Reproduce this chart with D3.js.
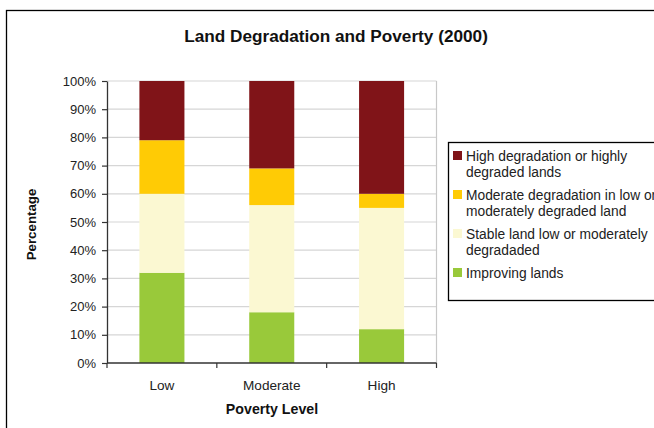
<!DOCTYPE html>
<html>
<head>
<meta charset="utf-8">
<script src="https://cdn.jsdelivr.net/npm/d3@7/dist/d3.min.js"></script>
<style>
  html, body { margin: 0; padding: 0; background: #fff; }
  svg { display: block; font-family: "Liberation Sans", Arial, sans-serif; }
</style>
</head>
<body>
<svg id="chart" width="654" height="428"></svg>
<script>
// Poverty levels along the x axis
const categories = ["Low", "Moderate", "High"];

// Share of land (%) in each condition, per poverty level
const improving = [32, 18, 12];
const stable    = [28, 38, 43];
const moderate  = [19, 13, 5];
const high      = [21, 31, 40];

const seriesNames = [
  "Improving lands",
  "Stable land low or moderately degradaded",
  "Moderate degradation in low or moderately degraded land",
  "High degradation or highly degraded lands"
];
const seriesColors = ["#99c93a", "#fbf8d2", "#ffcb05", "#801418"];

// Legend entries (top to bottom) with their wrapped lines
const legendLines = [
  ["High degradation or highly", "degraded lands"],
  ["Moderate degradation in low or", "moderately degraded land"],
  ["Stable land low or moderately", "degradaded"],
  ["Improving lands"]
];
const legendColors = ["#801418", "#ffcb05", "#fbf8d2", "#99c93a"];

const yTicks = [0, 10, 20, 30, 40, 50, 60, 70, 80, 90, 100];

const rows = categories.map((c, i) => ({
  cat: c,
  s0: improving[i], s1: stable[i], s2: moderate[i], s3: high[i]
}));
const keys = ["s0", "s1", "s2", "s3"];
const stacked = d3.stack().keys(keys)(rows);

const svg = d3.select("#chart");

// outer chart frame (runs past the right and bottom edges)
svg.append("rect")
  .attr("x", 6.5).attr("y", 10.5)
  .attr("width", 700).attr("height", 500)
  .attr("fill", "none").attr("stroke", "#000").attr("stroke-width", 1.3);

const plot = { left: 107, right: 436.5, top: 81, bottom: 363 };

const x = d3.scaleBand().domain(categories)
  .range([plot.left, plot.right]).padding(0);
const y = d3.scaleLinear().domain([0, 100]).range([plot.bottom, plot.top]);
const barW = x.bandwidth() * 0.41;

// gridlines
svg.append("g").selectAll("line").data(yTicks.filter(t => t > 0)).join("line")
  .attr("x1", plot.left).attr("x2", plot.right)
  .attr("y1", d => y(d)).attr("y2", d => y(d))
  .attr("stroke", "#d6d6d6").attr("stroke-width", 1.2);

// right edge of plot area
svg.append("line")
  .attr("x1", plot.right).attr("x2", plot.right)
  .attr("y1", plot.top).attr("y2", plot.bottom)
  .attr("stroke", "#c8c8c8").attr("stroke-width", 1.2);

// stacked bars
svg.append("g").selectAll("g").data(stacked).join("g")
  .attr("fill", (d, i) => seriesColors[i])
  .selectAll("rect").data(d => d).join("rect")
  .attr("x", d => x(d.data.cat) + (x.bandwidth() - barW) / 2)
  .attr("width", barW)
  .attr("y", d => y(d[1]))
  .attr("height", d => y(d[0]) - y(d[1]));

// y axis
const yAxis = d3.axisLeft(y).tickValues(yTicks)
  .tickFormat(d => d + "%").tickSizeInner(5).tickSizeOuter(0).tickPadding(6);
const gy = svg.append("g").attr("transform", `translate(${plot.left},0)`).call(yAxis);
gy.select(".domain").attr("stroke", "#333").attr("stroke-width", 1.3);
gy.selectAll(".tick line").attr("stroke", "#333").attr("stroke-width", 1.2);
gy.selectAll(".tick text").attr("fill", "#222").style("font-size", "13px")
  .style("font-family", "Liberation Sans, Arial, sans-serif");

// x axis: ticks at band boundaries, labels centred on bands
const xLine = svg.append("g");
xLine.append("line")
  .attr("x1", plot.left).attr("x2", plot.right)
  .attr("y1", plot.bottom).attr("y2", plot.bottom)
  .attr("stroke", "#333").attr("stroke-width", 1.3);
const bounds = categories.map(c => x(c)).concat([x(categories[categories.length - 1]) + x.bandwidth()]);
xLine.selectAll("line.tk").data(bounds).join("line").attr("class", "tk")
  .attr("x1", d => d).attr("x2", d => d)
  .attr("y1", plot.bottom).attr("y2", plot.bottom + 5)
  .attr("stroke", "#333").attr("stroke-width", 1.2);
xLine.selectAll("text").data(categories).join("text")
  .attr("x", d => x(d) + x.bandwidth() / 2)
  .attr("y", 390)
  .attr("text-anchor", "middle")
  .attr("fill", "#222").style("font-size", "13.6px")
  .text(d => d);

// title
svg.append("text")
  .attr("x", 336).attr("y", 42)
  .attr("text-anchor", "middle")
  .attr("font-weight", "bold").attr("fill", "#111")
  .style("font-size", "17.2px")
  .text("Land Degradation and Poverty (2000)");

// axis titles
svg.append("text")
  .attr("x", 272).attr("y", 414)
  .attr("text-anchor", "middle").attr("font-weight", "bold").attr("fill", "#111")
  .style("font-size", "14.2px")
  .text("Poverty Level");

svg.append("text")
  .attr("transform", "translate(35.5,224.5) rotate(-90)")
  .attr("text-anchor", "middle").attr("font-weight", "bold").attr("fill", "#111")
  .style("font-size", "13.3px")
  .text("Percentage");

// legend
const lg = svg.append("g");
lg.append("rect")
  .attr("x", 448.5).attr("y", 142.5)
  .attr("width", 260).attr("height", 158)
  .attr("fill", "#fff").attr("stroke", "#000").attr("stroke-width", 1.3);

const entryTop = [151, 190, 229, 268];
legendLines.forEach((lines, i) => {
  lg.append("rect")
    .attr("x", 453).attr("y", entryTop[i])
    .attr("width", 9).attr("height", 9)
    .attr("fill", legendColors[i]);
  lines.forEach((t, j) => {
    lg.append("text")
      .attr("x", 466).attr("y", entryTop[i] + 10 + j * 16)
      .attr("fill", "#222").style("font-size", "13.8px")
      .text(t);
  });
});
</script>
</body>
</html>
